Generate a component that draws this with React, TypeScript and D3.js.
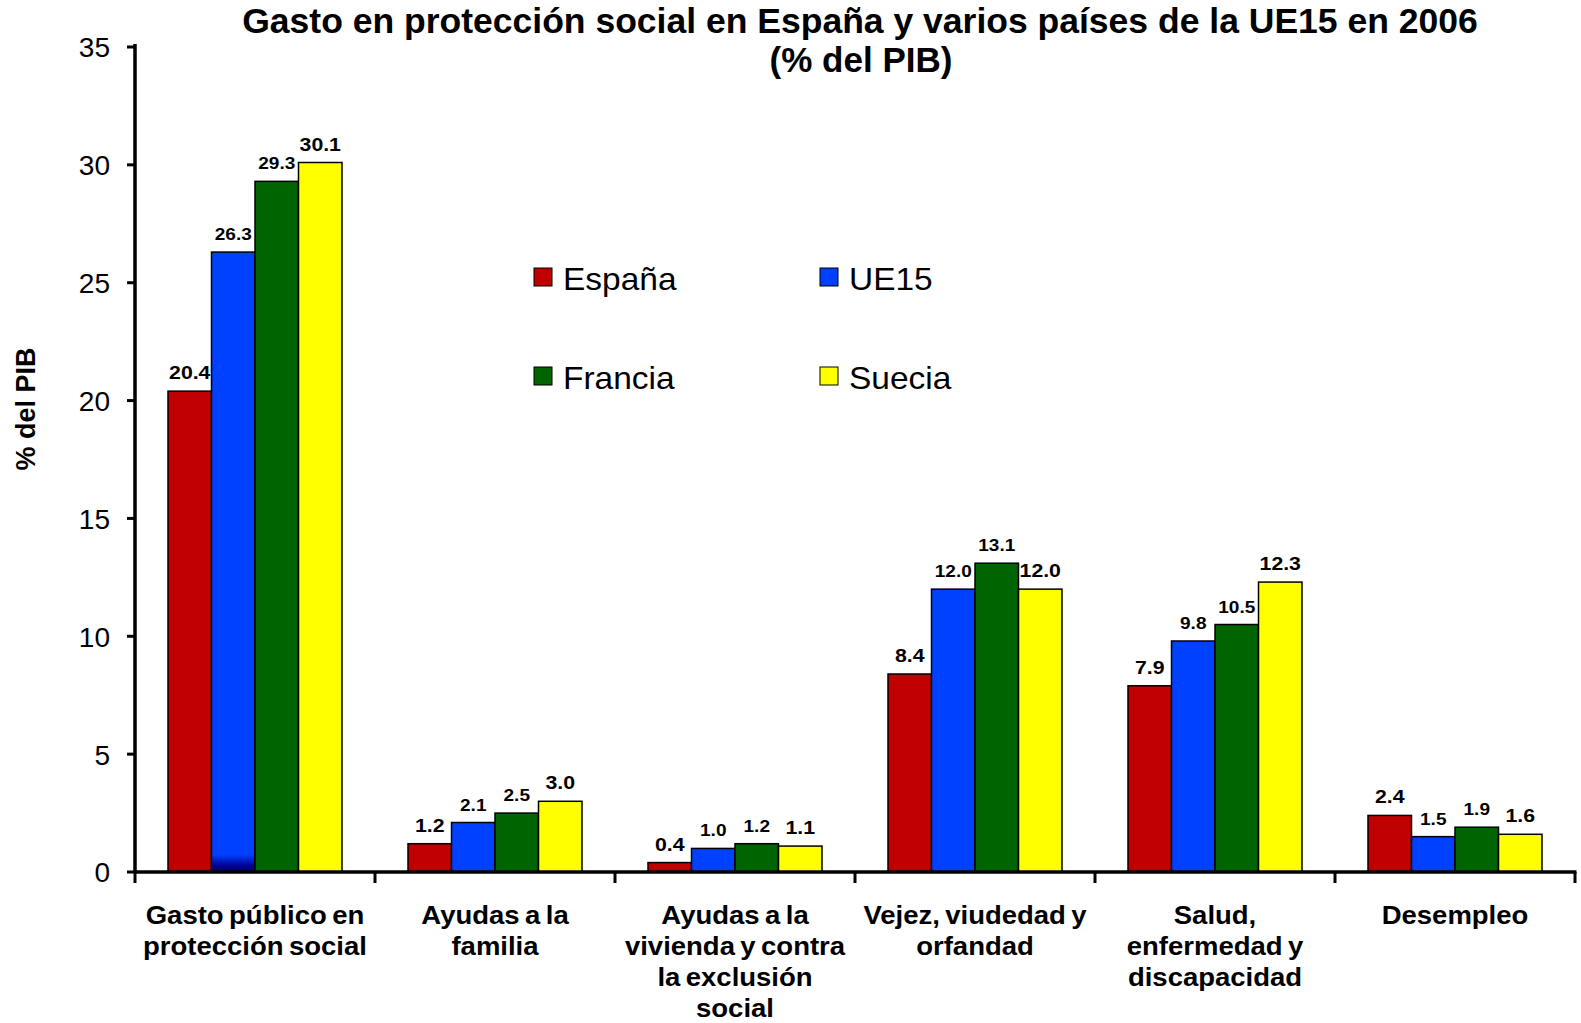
import * as d3 from "d3";
import React from "react";

const width = 1581;
const height = 1023;

const categories = [
  ["Gasto público en", "protección social"],
  ["Ayudas a la", "familia"],
  ["Ayudas a la", "vivienda y contra", "la exclusión", "social"],
  ["Vejez, viudedad y", "orfandad"],
  ["Salud,", "enfermedad y", "discapacidad"],
  ["Desempleo"],
];
const seriesNames = ["España", "UE15", "Francia", "Suecia"];
const espana = [20.4, 1.2, 0.4, 8.4, 7.9, 2.4];
const ue15 = [26.3, 2.1, 1.0, 12.0, 9.8, 1.5];
const francia = [29.3, 2.5, 1.2, 13.1, 10.5, 1.9];
const suecia = [30.1, 3.0, 1.1, 12.0, 12.3, 1.6];
const yTicks = [0, 5, 10, 15, 20, 25, 30, 35];

const seriesValues = [espana, ue15, francia, suecia];
const colors = ["#C00000", "#0040FF", "#006400", "#FFFF00"];
const labelSize = [19, 17, 17, 19];

const font = "'Liberation Sans', Arial, sans-serif";
const left = 135;
const right = 1575;
const top = 47;
const bottom = 872;

type TxtProps = {
  x: number;
  y: number;
  sx?: number;
  size: number;
  bold?: boolean;
  anchor?: "start" | "middle" | "end";
  rotate?: number;
  dy?: string;
  ws?: number;
  children: React.ReactNode;
};

// text with an optional horizontal stretch (the reference fonts are a bit wide)
const Txt: React.FC<TxtProps> = ({ x, y, sx = 1, size, bold, anchor = "start", rotate = 0, dy, ws, children }) => (
  <text
    transform={`translate(${x},${y}) rotate(${rotate}) scale(${sx},1)`}
    fontFamily={font}
    fontSize={size}
    fontWeight={bold ? "bold" : "normal"}
    textAnchor={anchor}
    dy={dy}
    wordSpacing={ws}
    fill="#000"
  >
    {children}
  </text>
);

const App: React.FC = () => {
  const y = d3.scaleLinear().domain([0, 35]).range([bottom, top]);
  const x0 = d3.scaleBand<number>().domain(d3.range(categories.length)).range([left, right]);
  const x1 = d3.scaleBand<number>().domain(d3.range(seriesNames.length)).range([33, 207]);

  const legendPos = [
    [534, 268],
    [820, 268],
    [534, 367],
    [820, 367],
  ];

  return (
    <svg
      width={width}
      height={height}
      viewBox={`0 0 ${width} ${height}`}
      style={{ position: "absolute", left: 0, top: 0, background: "#fff" }}
    >
      <defs>
        <linearGradient id="ue15-fade" x1="0" y1="0" x2="0" y2="1">
          <stop offset="0" stopColor="#0040FF" />
          <stop offset="0.972" stopColor="#0040FF" />
          <stop offset="0.99" stopColor="#000090" />
          <stop offset="1" stopColor="#000060" />
        </linearGradient>
      </defs>

      {/* title */}
      <Txt x={860} y={33} size={35} bold anchor="middle" sx={1.015}>
        Gasto en protección social en España y varios países de la UE15 en 2006
      </Txt>
      <Txt x={861} y={72} size={35} bold anchor="middle" sx={1.0}>
        (% del PIB)
      </Txt>

      {/* y axis title */}
      <Txt x={35} y={409} size={27} bold anchor="middle" rotate={-90}>
        % del PIB
      </Txt>

      {/* bars */}
      {seriesValues.map((vals, s) =>
        vals.map((v, i) => {
          const bx = (x0(i) ?? 0) + (x1(s) ?? 0);
          const bw = x1.bandwidth();
          const fill = s === 1 && i === 0 ? "url(#ue15-fade)" : colors[s];
          return (
            <g key={`${s}-${i}`}>
              <rect x={bx} y={y(v)} width={bw} height={y(0) - y(v)} fill={fill} stroke="#000" strokeWidth={1.5} />
              <Txt x={bx + bw / 2} y={y(v) - 12} size={labelSize[s]} bold anchor="middle" sx={1.12}>
                {v.toFixed(1)}
              </Txt>
            </g>
          );
        })
      )}

      {/* y axis */}
      <line x1={left} x2={left} y1={top - 3} y2={bottom} stroke="#000" strokeWidth={3.5} />
      {yTicks.map((t) => (
        <g key={t}>
          <line x1={left - 8} x2={left} y1={y(t)} y2={y(t)} stroke="#000" strokeWidth={3} />
          <Txt x={110} y={y(t) + 1} size={27} anchor="end" dy="0.35em" sx={1.04}>
            {t}
          </Txt>
        </g>
      ))}

      {/* x axis */}
      <line x1={left} x2={right + 1.5} y1={bottom} y2={bottom} stroke="#000" strokeWidth={3.5} />
      {d3.range(categories.length + 1).map((k) => {
        const tx = left + k * x0.bandwidth();
        return <line key={k} x1={tx} x2={tx} y1={bottom} y2={bottom + 11} stroke="#000" strokeWidth={3} />;
      })}
      {categories.map((lines, i) => (
        <g key={i}>
          {lines.map((ln, j) => (
            <Txt
              key={j}
              x={(x0(i) ?? 0) + x0.bandwidth() / 2}
              y={924 + j * 31}
              size={25}
              bold
              anchor="middle"
              sx={1.1}
              ws={-2}
            >
              {ln}
            </Txt>
          ))}
        </g>
      ))}

      {/* legend */}
      {seriesNames.map((name, s) => (
        <g key={name}>
          <rect x={legendPos[s][0]} y={legendPos[s][1]} width={18} height={18} fill={colors[s]} stroke="#000" strokeWidth={1} />
          <Txt x={legendPos[s][0] + 29} y={legendPos[s][1] + 22} size={31} sx={1.08}>
            {name}
          </Txt>
        </g>
      ))}
    </svg>
  );
};

export default App;
